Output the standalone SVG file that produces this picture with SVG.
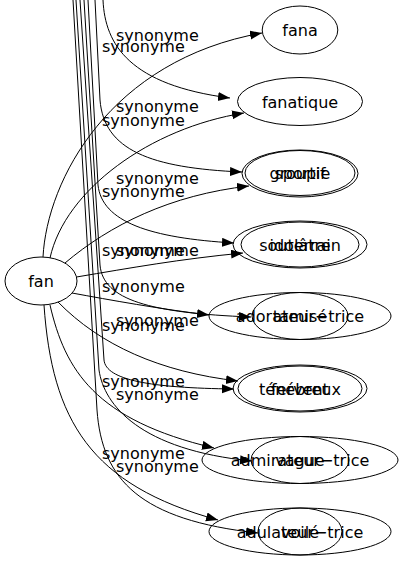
<svg xmlns="http://www.w3.org/2000/svg" width="403" height="563" viewBox="0 0 403 563">
<style>
text{font-family:"DejaVu Sans",sans-serif;font-size:16px;fill:#000}
.n ellipse{fill:none;stroke:#000;stroke-width:1}
.n text{text-anchor:middle}
#edges path{fill:none;stroke:#000;stroke-width:1;marker-end:url(#ah)}
</style>
<defs>
<marker id="ah" markerWidth="14" markerHeight="10" refX="12" refY="4.5" orient="auto" markerUnits="userSpaceOnUse"><path d="M0,0 L12,4.5 L0,9 z" fill="#000"/></marker>
</defs>
<rect width="403" height="563" fill="#fff"/>
<g id="edges">
<path d="M43,257 C47,180 110,60 262,33"/>
<path d="M50,258 C65,190 150,128 244,113"/>
<path d="M65,263 C110,225 170,195 249,186"/>
<path d="M76.5,277 C130,268 180,259 243,253"/>
<path d="M72,293 C110,300 160,309 209,315"/>
<path d="M58,302 C100,345 160,372 238,381"/>
<path d="M50,305 C65,370 95,420 214,448"/>
<path d="M44,305 C52,420 90,485 218,520"/>
<path d="M103,0 C105,45 130,85 230,98"/>
<path d="M95,0 L100,100 C104,150 150,168 242,172"/>
<path d="M88,0 L98,185 C102,222 150,238 234,243"/>
<path d="M84,0 L100,265 C103,300 150,313 251,317"/>
<path d="M80,0 L104,360 C106,380 150,388 234,389"/>
<path d="M76,0 L99,370 C104,405 140,450 252,461"/>
<path d="M73,0 L97,410 C102,480 140,520 258,533"/>
</g>
<g id="labels">
<text x="116" y="41">synonyme</text>
<text x="102" y="52">synonyme</text>
<text x="116" y="112">synonyme</text>
<text x="102" y="125.5">synonyme</text>
<text x="116" y="184">synonyme</text>
<text x="102" y="197">synonyme</text>
<text x="116" y="255.5">synonyme</text>
<text x="102" y="255.5">synonyme</text>
<text x="102" y="292">synonyme</text>
<text x="116" y="326">synonyme</text>
<text x="102" y="331">synonyme</text>
<text x="102" y="387">synonyme</text>
<text x="116" y="400">synonyme</text>
<text x="102" y="459">synonyme</text>
<text x="116" y="472">synonyme</text>
</g>
<g id="fan" class="n"><ellipse cx="41" cy="281" rx="36" ry="24"/><text x="41" y="287">fan</text></g>
<g id="fana" class="n"><ellipse cx="300" cy="30" rx="37.8" ry="24"/><text x="300" y="36">fana</text></g>
<g id="fanatique" class="n"><ellipse cx="300" cy="101.5" rx="62.5" ry="24"/><text x="300" y="107.5">fanatique</text></g>
<g id="groupie" class="n"><ellipse cx="300" cy="173.5" rx="58" ry="23.5"/><text x="300" y="179">groupie</text></g>
<g id="sportif" class="n"><ellipse cx="300" cy="173" rx="55" ry="22.5"/><text x="300" y="179">sportif</text></g>
<g id="souterrain" class="n"><ellipse cx="300" cy="244.5" rx="67" ry="23.5"/><text x="300" y="250.5">souterrain</text></g>
<g id="idolatre" class="n"><ellipse cx="300" cy="244.5" rx="59" ry="22.5"/><text x="300" y="250.5">idolâtre</text></g>
<g id="adorateur" class="n"><ellipse cx="300" cy="316" rx="91" ry="23.5"/><text x="300" y="322">adorateur−trice</text></g>
<g id="tamise" class="n"><ellipse cx="300" cy="316" rx="48" ry="23.5"/><text x="300" y="322">tamisé</text></g>
<g id="tenebreux" class="n"><ellipse cx="300" cy="388.5" rx="67" ry="23.5"/><text x="300" y="394.5">ténébreux</text></g>
<g id="fervent" class="n"><ellipse cx="300" cy="388.5" rx="62" ry="22.5"/><text x="300" y="394.5">fervent</text></g>
<g id="admirateur" class="n"><ellipse cx="300" cy="460" rx="98" ry="23.5"/><text x="300" y="466">admirateur−trice</text></g>
<g id="vague" class="n"><ellipse cx="300" cy="460" rx="49" ry="23.5"/><text x="300" y="466">vague</text></g>
<g id="adulateur" class="n"><ellipse cx="300" cy="531.5" rx="91" ry="23.5"/><text x="300" y="537.5">adulateur−trice</text></g>
<g id="voile" class="n"><ellipse cx="300" cy="531.5" rx="42" ry="23.5"/><text x="300" y="537.5">voilé</text></g>
</svg>
